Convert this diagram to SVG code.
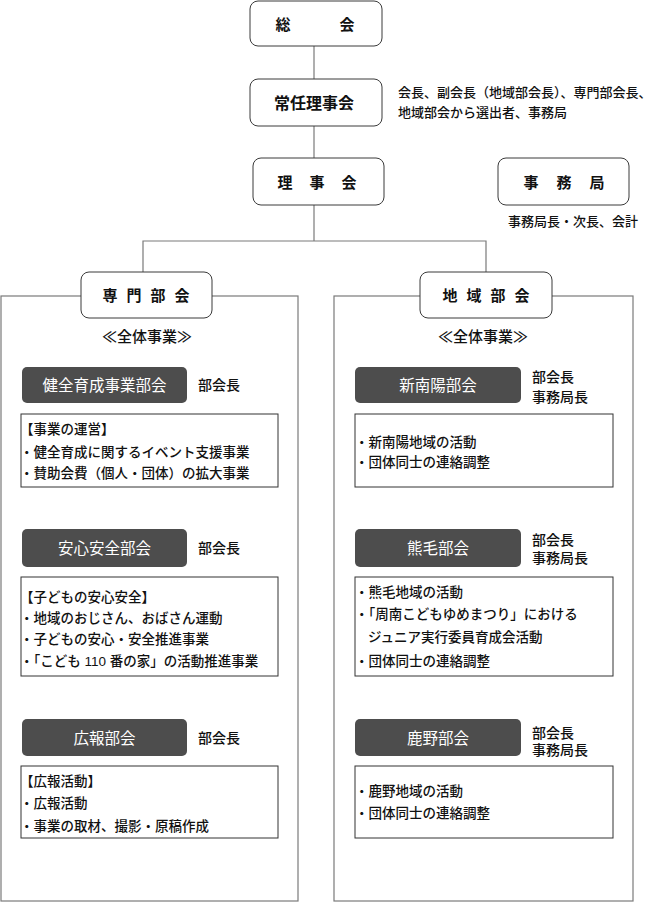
<svg xmlns="http://www.w3.org/2000/svg" width="655" height="902" viewBox="0 0 655 902">
<style>
text{font-family:"Liberation Sans","Noto Sans CJK JP",sans-serif;fill:#111;dominant-baseline:central}
.node{fill:#fff;stroke:#3a3a3a;stroke-width:1}
.title{font-size:15px;font-weight:bold;text-anchor:middle}
.panel{fill:none;stroke:#7a7a7a;stroke-width:1.2}
.dark{fill:#4d4d4d}
.dtext{font-size:15.5px;fill:#fff;text-anchor:middle}
.box{fill:#fff;stroke:#333;stroke-width:1}
.t13{font-size:13.5px;font-weight:500}
.t14{font-size:14px;font-weight:500}
.conn{fill:none;stroke:#7a7a7a;stroke-width:1.2}
</style>
<rect width="655" height="902" fill="#fff"/>
<g id="panels">
<rect class="panel" x="1" y="296" width="297" height="605"/>
<rect class="panel" x="334" y="296" width="299" height="605"/>
</g>
<g id="connectors">
<line class="conn" x1="314" y1="46" x2="314" y2="79"/>
<line class="conn" x1="314" y1="126" x2="314" y2="158"/>
<polyline class="conn" points="314,205 314,241"/>
<polyline class="conn" points="143,272 143,241 486,241 486,272"/>
</g>
<g id="n-soukai">
<rect class="node" x="250" y="1" width="132" height="45" rx="8"/>
<text class="title" x="283 347" y="24">総会</text>
</g>
<g id="n-jonin">
<rect class="node" x="250" y="79" width="132" height="47" rx="8"/>
<text class="title" x="314" y="103" style="font-size:16px">常任理事会</text>
<text class="t13" x="398" y="92" style="font-size:13px">会長、副会長（地域部会長）、専門部会長、</text>
<text class="t13" x="398" y="112" style="font-size:13px">地域部会から選出者、事務局</text>
</g>
<g id="n-rijikai">
<rect class="node" x="253" y="158" width="131" height="47" rx="8"/>
<text class="title" x="285 317 349" y="182">理事会</text>
</g>
<g id="n-jimukyoku">
<rect class="node" x="498" y="158" width="131" height="47" rx="8"/>
<text class="title" x="531 564 597" y="182">事務局</text>
<text class="t13" x="573" y="221" style="text-anchor:middle;font-size:13px">事務局長・次長、会計</text>
</g>
<g id="n-senmon">
<rect class="node" x="81" y="272" width="131" height="46" rx="8"/>
<text class="title" x="110 134 158 182" y="295">専門部会</text>
<text class="t14" x="147" y="336" style="text-anchor:middle;font-size:15px">≪全体事業≫</text>
</g>
<g id="n-chiiki">
<rect class="node" x="420" y="272" width="132" height="46" rx="8"/>
<text class="title" x="450 474 498 522" y="295">地域部会</text>
<text class="t14" x="483" y="336" style="text-anchor:middle;font-size:15px">≪全体事業≫</text>
</g>
<g id="n-kenzen">
<rect class="dark" x="22" y="367" width="165" height="36" rx="5"/>
<text class="dtext" x="104.5" y="385">健全育成事業部会</text>
<text class="t14" x="198" y="385">部会長</text>
<rect class="box" x="21" y="414" width="257" height="73"/>
<text class="t13" x="20" y="429">【事業の運営】</text>
<text class="t13" x="20" y="452">・健全育成に関するイベント支援事業</text>
<text class="t13" x="20" y="473">・賛助会費（個人・団体）の拡大事業</text>
</g>
<g id="n-anshin">
<rect class="dark" x="22" y="529" width="165" height="38" rx="5"/>
<text class="dtext" x="104.5" y="548">安心安全部会</text>
<text class="t14" x="198" y="548">部会長</text>
<rect class="box" x="21" y="577" width="257" height="99"/>
<text class="t13" x="20" y="597">【子どもの安心安全】</text>
<text class="t13" x="20" y="618">・地域のおじさん、おばさん運動</text>
<text class="t13" x="20" y="639">・子どもの安心・安全推進事業</text>
<text class="t13" x="20" y="661">・「こども 110 番の家」の活動推進事業</text>
</g>
<g id="n-kouhou">
<rect class="dark" x="22" y="719" width="165" height="37" rx="5"/>
<text class="dtext" x="104.5" y="738">広報部会</text>
<text class="t14" x="198" y="738">部会長</text>
<rect class="box" x="21" y="766" width="257" height="72"/>
<text class="t13" x="20" y="781">【広報活動】</text>
<text class="t13" x="20" y="803">・広報活動</text>
<text class="t13" x="20" y="826">・事業の取材、撮影・原稿作成</text>
</g>
<g id="n-shinnanyo">
<rect class="dark" x="355" y="367" width="166" height="36" rx="5"/>
<text class="dtext" x="438" y="385">新南陽部会</text>
<text class="t14" x="532" y="377">部会長</text>
<text class="t14" x="532" y="397">事務局長</text>
<rect class="box" x="355" y="414" width="258" height="73"/>
<text class="t13" x="355" y="442">・新南陽地域の活動</text>
<text class="t13" x="355" y="462">・団体同士の連絡調整</text>
</g>
<g id="n-kumage">
<rect class="dark" x="355" y="529" width="166" height="38" rx="5"/>
<text class="dtext" x="438" y="548">熊毛部会</text>
<text class="t14" x="532" y="540">部会長</text>
<text class="t14" x="532" y="558">事務局長</text>
<rect class="box" x="355" y="577" width="258" height="99"/>
<text class="t13" x="355" y="592">・熊毛地域の活動</text>
<text class="t13" x="355" y="614">・「周南こどもゆめまつり」における</text>
<text class="t13" x="368" y="637">ジュニア実行委員育成会活動</text>
<text class="t13" x="355" y="661">・団体同士の連絡調整</text>
</g>
<g id="n-kano">
<rect class="dark" x="355" y="719" width="166" height="37" rx="5"/>
<text class="dtext" x="438" y="738">鹿野部会</text>
<text class="t14" x="532" y="733">部会長</text>
<text class="t14" x="532" y="750">事務局長</text>
<rect class="box" x="355" y="766" width="258" height="72"/>
<text class="t13" x="355" y="791">・鹿野地域の活動</text>
<text class="t13" x="355" y="813">・団体同士の連絡調整</text>
</g>
</svg>
